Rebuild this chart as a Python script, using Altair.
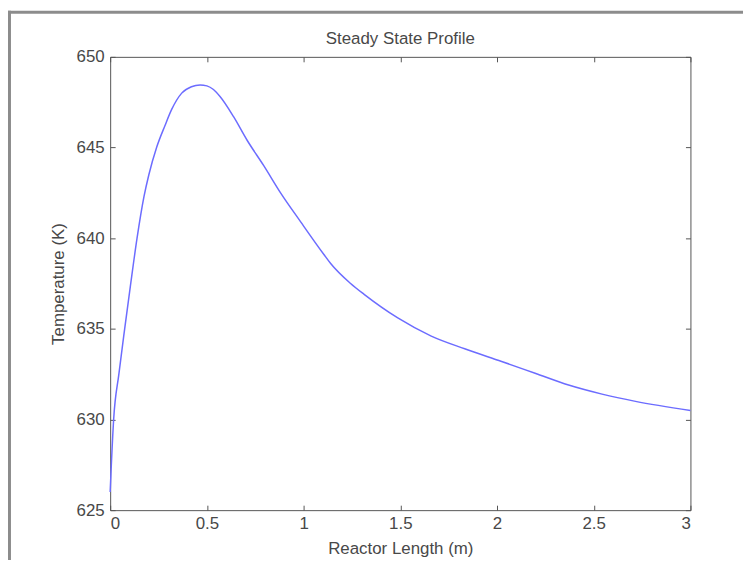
import altair as alt
import pandas as pd

# Reactor length (m) and temperature (K)
length_m = [0.0, 0.004, 0.018, 0.045, 0.075, 0.105, 0.139, 0.175, 0.20, 0.24,
            0.283, 0.318, 0.37, 0.42, 0.465, 0.50, 0.534, 0.569, 0.638, 0.708,
            0.794, 0.881, 0.985, 1.105, 1.14, 1.243, 1.313, 1.487, 1.66, 1.833,
            2.024, 2.197, 2.37, 2.543, 2.716, 3.0]
temp_k = [626.0, 627.0, 630.0, 632.5, 635.0, 637.4, 640.0, 642.3, 643.5, 645.0,
          646.2, 647.1, 648.0, 648.35, 648.45, 648.4, 648.2, 647.8, 646.7, 645.4,
          644.0, 642.5, 640.9, 639.1, 638.6, 637.5, 636.9, 635.6, 634.6, 633.9,
          633.2, 632.55, 631.9, 631.4, 631.0, 630.5]

x_ticks = [0, 0.5, 1, 1.5, 2, 2.5, 3]
y_ticks = [625, 630, 635, 640, 645, 650]
chart_title = "Steady State Profile"

df = pd.DataFrame({"x": length_m, "T": temp_k})

FONT = "Liberation Sans"
TXT = "#484848"
AX = "#555555"
W, H = 585, 457

xscale = alt.Scale(domain=[0, 3], nice=False, zero=False)
yscale = alt.Scale(domain=[625, 650], nice=False, zero=False)

line = alt.Chart(df).mark_line(color="#6c6cff", strokeWidth=1.5,
                               interpolate="monotone").encode(
    x=alt.X("x:Q", scale=xscale,
            axis=alt.Axis(orient="bottom", values=x_ticks, format="~g",
                          title="Reactor Length (m)", domain=False,
                          offset=-5, tickSize=5, tickColor=AX, labelPadding=5,
                          titlePadding=10)),
    y=alt.Y("T:Q", scale=yscale,
            axis=alt.Axis(orient="left", values=y_ticks, format="~g",
                          title="Temperature (K)", domain=False,
                          offset=-5, tickSize=5, tickColor=AX, labelPadding=6,
                          titlePadding=9)),
)

box_ticks = alt.Chart(df).mark_line(opacity=0).encode(
    x=alt.X("x:Q", scale=xscale,
            axis=alt.Axis(orient="top", values=x_ticks, labels=False, title=None,
                          domain=False, offset=-5, tickSize=5, tickColor=AX)),
    y=alt.Y("T:Q", scale=yscale,
            axis=alt.Axis(orient="right", values=y_ticks, labels=False, title=None,
                          domain=False, offset=-5, tickSize=5, tickColor=AX)),
)

one = pd.DataFrame({"t": [chart_title]})
title_text = alt.Chart(one).mark_text(
    font=FONT, fontSize=17, color=TXT, align="center", baseline="alphabetic"
).encode(text="t:N", x=alt.value(W / 2), y=alt.value(-13))

frame_top = alt.Chart(one).mark_rule(color="#8c8c8c", strokeWidth=3).encode(
    x=alt.value(-103), x2=alt.value(640), y=alt.value(-45))
frame_left = alt.Chart(one).mark_rule(color="#8c8c8c", strokeWidth=3).encode(
    x=alt.value(-101.5), y=alt.value(-46.5), y2=alt.value(520))

chart = alt.layer(line, box_ticks, title_text, frame_top, frame_left).resolve_axis(
    x="independent", y="independent"
).properties(
    width=W, height=H,
    background="white",
    autosize=alt.AutoSizeParams(type="none"),
    padding={"left": 103, "top": 47, "right": 53, "bottom": 48},
).configure_view(
    stroke=AX, strokeWidth=1
).configure_axis(
    labelFont=FONT, titleFont=FONT, labelFontSize=17, titleFontSize=17,
    labelColor=TXT, titleColor=TXT, titleFontWeight="normal", grid=False
)

chart.save("out.html", embed_options={"renderer": "svg", "actions": False})
